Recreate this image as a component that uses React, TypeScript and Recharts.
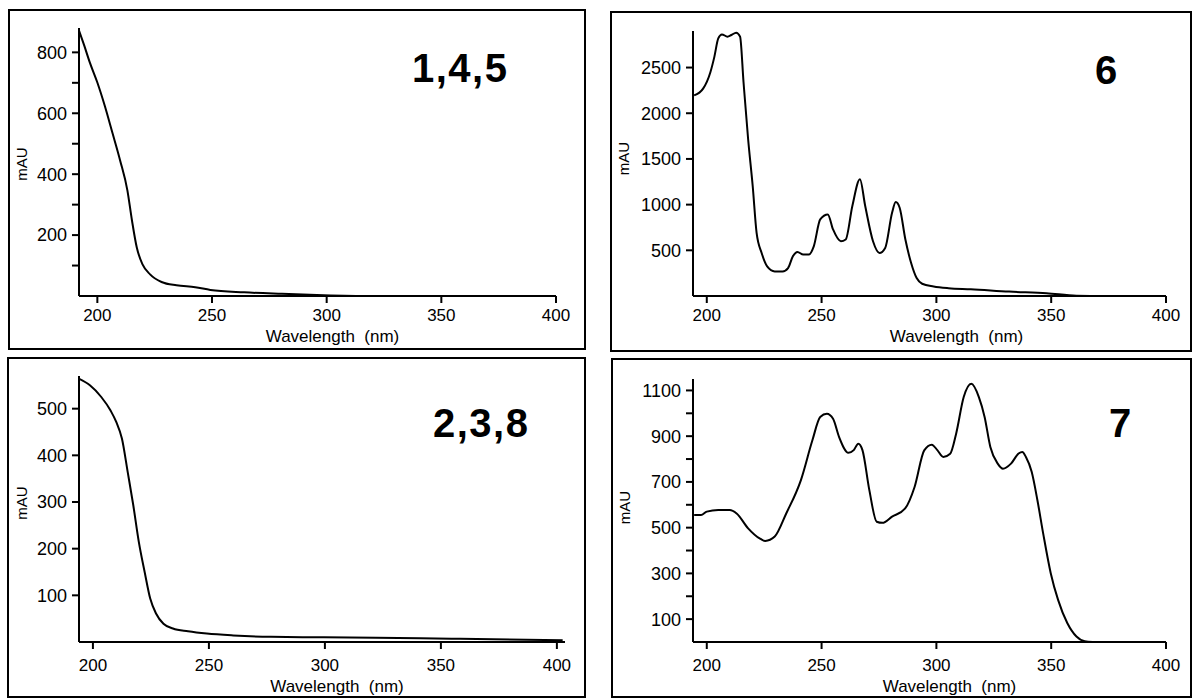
import React from 'react';
import { LineChart, Line, XAxis, YAxis } from 'recharts';

// ---------- data ----------
const X_TICKS = [200, 250, 300, 350, 400];

const P1_WL = [192, 194.3, 196.7, 200, 203.3, 206.6, 209.9, 213.1, 215.1, 217.2, 219.7, 223, 228, 234.5, 242.7, 249.3, 264, 280.5, 301.8, 321.5, 398.7];
const P1_MAU = [872, 822, 767, 701, 623, 535, 446, 347, 248, 159, 104, 71, 46, 35, 29, 20, 12, 7, 2, 0, 0];
const P1_TICKS = [100, 200, 300, 400, 500, 600, 700, 800];
const P1_LABELED = [200, 400, 600, 800];

const P2_WL = [194.5, 198.4, 201.6, 203.3, 205, 206.6, 209, 210.7, 212.8, 214.5, 216, 218, 220, 221.7, 223.9, 226.3, 229.6, 233, 235.4, 237.5, 239.5, 242, 244.4, 246.6, 249.4, 252.7, 255, 258.4, 260.5, 263.4, 266.7, 269, 272.4, 275.2, 277.7, 280.7, 282.3, 284, 286.5, 289, 291.4, 293.8, 298.8, 305.3, 315, 331.7, 348, 361, 373, 386];
const P2_MAU = [2195, 2269, 2452, 2617, 2819, 2863, 2838, 2856, 2882, 2838, 2342, 1718, 1204, 691, 471, 324, 269, 269, 306, 434, 482, 453, 453, 544, 838, 893, 728, 599, 618, 985, 1278, 985, 599, 471, 526, 911, 1028, 966, 618, 361, 196, 134, 104, 85, 74, 48, 30, 4, 0, 0];
const P2_TICKS = [500, 1000, 1500, 2000, 2500];

const P3_WL = [194.1, 198.7, 203.6, 207.6, 210.1, 212.5, 215, 217.4, 219.8, 222.3, 224.7, 227.2, 230.4, 234.5, 241, 249.1, 260.5, 276.7, 299.5, 322, 354.6, 402.5];
const P3_MAU = [564, 550, 525, 496, 471, 436, 364, 293, 214, 150, 93, 61, 39, 29, 23, 18, 14, 11, 10, 9, 7, 4];
const P3_TICKS = [100, 200, 300, 400, 500];

const P4_WL = [194.5, 197.5, 200, 205, 210, 213, 218, 223, 225.5, 229.6, 234.6, 241, 246, 249.4, 252.3, 255, 257.6, 261.7, 264, 266, 267.8, 270.8, 274, 276.5, 280.7, 286.4, 290.5, 294.7, 298, 300.4, 303, 306, 308.6, 311.9, 315.2, 318.5, 321, 323.5, 326.7, 329, 332.5, 335.8, 337.4, 339, 341.5, 344, 346.5, 349.8, 353, 357, 361, 364.6, 368];
const P4_MAU = [555, 555, 570, 577, 577, 562, 497, 453, 442, 461, 562, 708, 882, 984, 998, 976, 897, 827, 839, 867, 839, 664, 526, 521, 548, 584, 678, 838, 863, 839, 809, 823, 911, 1071, 1129, 1071, 984, 853, 780, 758, 780, 824, 831, 809, 744, 620, 475, 301, 184, 83, 24, 3, 0];
const P4_TICKS = [100, 200, 300, 400, 500, 600, 700, 800, 900, 1000, 1100];
const P4_LABELED = [100, 300, 500, 700, 900, 1100];

const PANEL_LABELS = ['1,4,5', '6', '2,3,8', '7'];
const X_TITLE = 'Wavelength  (nm)';
const Y_TITLE = 'mAU';

const build = (xs: number[], ys: number[]) => xs.map((x, i) => ({ x, y: ys[i] }));

const FONT = '"Liberation Sans", Arial, Helvetica, sans-serif';

const makeYTick = (labeled: number[] | null) => (props: any) => {
  const { x, y, payload } = props;
  if (labeled && !labeled.includes(payload.value)) return <g />;
  return (
    <text x={x} y={y} dy="0.355em" textAnchor="end" fontSize={18} fill="#000" fontFamily={FONT}>
      {payload.value}
    </text>
  );
};

const xLabel = (dx: number, off: number) => ({
  content: (p: any) => {
    const vb = p.viewBox || {};
    const x = vb.x + vb.width / 2 + dx;
    const y = vb.y + vb.height - off;
    return (
      <text x={x} y={y} textAnchor="middle" fontSize={17} fill="#000" fontFamily={FONT} xmlSpace="preserve" style={{ whiteSpace: 'pre' }}>
        {X_TITLE}
      </text>
    );
  },
});

const yLabel = (cx: number, dy: number) => ({
  content: (p: any) => {
    const vb = p.viewBox || {};
    const x = vb.x + cx;
    const y = vb.y + vb.height / 2 + dy;
    return (
      <text x={x} y={y} transform={`rotate(-90 ${x} ${y})`} textAnchor="middle" dominantBaseline="central" fontSize={15} fill="#000" fontFamily={FONT}>
        {Y_TITLE}
      </text>
    );
  },
});

type PanelProps = {
  left: number; top: number; width: number; height: number;
  mTop: number; mRight: number; yWidth: number; xHeight: number;
  xDomain: [number, number]; yDomain: [number, number];
  data: { x: number; y: number }[];
  yTicks: number[]; labeled: number[] | null;
  xTickMargin: number; xlDx: number; xlOff: number; ylCx: number; ylDy: number;
};

const Panel = (p: PanelProps) => (
  <div style={{ position: 'absolute', left: p.left, top: p.top }}>
    <LineChart width={p.width} height={p.height} data={p.data} margin={{ top: p.mTop, right: p.mRight, left: 0, bottom: 0 }}>
      <XAxis
        type="number"
        dataKey="x"
        domain={p.xDomain}
        allowDataOverflow
        ticks={X_TICKS}
        interval={0}
        height={p.xHeight}
        tickSize={7}
        tickMargin={p.xTickMargin}
        axisLine={{ stroke: '#000', strokeWidth: 2 }}
        tickLine={{ stroke: '#000', strokeWidth: 2 }}
        tick={{ fontSize: 17, fill: '#000', fontFamily: FONT }}
        label={xLabel(p.xlDx, p.xlOff)}
      />
      <YAxis
        type="number"
        domain={p.yDomain}
        allowDataOverflow
        ticks={p.yTicks}
        interval={0}
        width={p.yWidth}
        tickSize={7}
        tickMargin={5}
        axisLine={{ stroke: '#000', strokeWidth: 2 }}
        tickLine={{ stroke: '#000', strokeWidth: 2 }}
        tick={makeYTick(p.labeled)}
        label={yLabel(p.ylCx, p.ylDy)}
      />
      <Line type="monotone" dataKey="y" stroke="#000" strokeWidth={2} dot={false} isAnimationActive={false} />
    </LineChart>
  </div>
);

export default function App() {
  return (
    <div style={{ position: 'absolute', left: 0, top: 0, width: 1193, height: 698, background: '#fff', fontFamily: FONT, overflow: 'hidden' }}>
      <Panel left={0} top={0} width={590} height={345} mTop={28} mRight={34} yWidth={79} xHeight={49}
        xDomain={[192, 400]} yDomain={[0, 880]} data={build(P1_WL, P1_MAU)} yTicks={P1_TICKS} labeled={P1_LABELED}
        xTickMargin={6} xlDx={15} xlOff={3} ylCx={21} ylDy={2} />
      <Panel left={600} top={0} width={593} height={345} mTop={31} mRight={27} yWidth={93} xHeight={49}
        xDomain={[194, 400]} yDomain={[0, 2900]} data={build(P2_WL, P2_MAU)} yTicks={P2_TICKS} labeled={null}
        xTickMargin={6} xlDx={27} xlOff={3} ylCx={23} ylDy={-5} />
      <Panel left={0} top={345} width={590} height={353} mTop={31} mRight={25} yWidth={79} xHeight={56}
        xDomain={[194, 403.5]} yDomain={[0, 570]} data={build(P3_WL, P3_MAU)} yTicks={P3_TICKS} labeled={null}
        xTickMargin={10} xlDx={15} xlOff={6} ylCx={21} ylDy={-6} />
      <Panel left={600} top={345} width={593} height={353} mTop={34} mRight={27} yWidth={93} xHeight={56}
        xDomain={[194, 400]} yDomain={[0, 1150]} data={build(P4_WL, P4_MAU)} yTicks={P4_TICKS} labeled={P4_LABELED}
        xTickMargin={10} xlDx={20} xlOff={6} ylCx={24} ylDy={-3} />
      <svg width={1193} height={698} style={{ position: 'absolute', left: 0, top: 0, pointerEvents: 'none' }}>
        <rect x={9} y={10} width={576} height={339} fill="none" stroke="#000" strokeWidth={2} />
        <rect x={611} y={12} width={580} height={339} fill="none" stroke="#000" strokeWidth={2} />
        <rect x={8} y={358} width={577} height={339} fill="none" stroke="#000" strokeWidth={2} />
        <rect x={612} y={359} width={579} height={338} fill="none" stroke="#000" strokeWidth={2} />
        <g fontFamily={FONT} fontWeight="bold" fontSize={40} fill="#000">
          <text x={412} y={82} letterSpacing={1.5}>{PANEL_LABELS[0]}</text>
          <text x={1095} y={84}>{PANEL_LABELS[1]}</text>
          <text x={433} y={437} letterSpacing={1.5}>{PANEL_LABELS[2]}</text>
          <text x={1109} y={437}>{PANEL_LABELS[3]}</text>
        </g>
      </svg>
    </div>
  );
}
